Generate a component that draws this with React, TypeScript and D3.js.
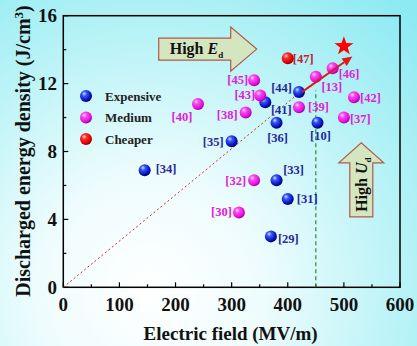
import React from "react";
import * as d3 from "d3";

// ---- data ----
const expensive = [
  { ref: "[34]", e: 145, u: 6.9 },
  { ref: "[35]", e: 300, u: 8.6 },
  { ref: "[36]", e: 380, u: 9.7 },
  { ref: "[41]", e: 360, u: 10.9 },
  { ref: "[44]", e: 420, u: 11.5 },
  { ref: "[10]", e: 453, u: 9.7 },
  { ref: "[33]", e: 380, u: 6.3 },
  { ref: "[31]", e: 400, u: 5.2 },
  { ref: "[29]", e: 370, u: 3.0 },
];
const medium = [
  { ref: "[40]", e: 240, u: 10.8 },
  { ref: "[38]", e: 325, u: 10.3 },
  { ref: "[45]", e: 340, u: 12.2 },
  { ref: "[43]", e: 351, u: 11.3 },
  { ref: "[39]", e: 420, u: 10.6 },
  { ref: "[13]", e: 450, u: 12.4 },
  { ref: "[46]", e: 480, u: 12.9 },
  { ref: "[42]", e: 518, u: 11.2 },
  { ref: "[37]", e: 500, u: 10.0 },
  { ref: "[32]", e: 340, u: 6.3 },
  { ref: "[30]", e: 313, u: 4.4 },
];
const cheaper = [{ ref: "[47]", e: 400, u: 13.5 }];
const starPoint = { e: 500, u: 14.2 };
const trendLine = [{ e: 0, u: 0 }, { e: 415, u: 11.3 }];
const progressArrow = [{ e: 425, u: 11.5 }, { e: 515, u: 13.6 }];
const fieldLimit = [{ e: 450, u: 0 }, { e: 450, u: 11.6 }];
const xTicks = [0, 100, 200, 300, 400, 500, 600];
const yTicks = [0, 4, 8, 12, 16];
const xMinor = [50, 150, 250, 350, 450, 550];
const yMinor = [2, 6, 10, 14];
const legendItems = ["Expensive", "Medium", "Cheaper"];

// ---- layout (label placement) ----
const labelPlace: Record<string, [number, number, string]> = {
  "[34]": [11, -2, "start"],
  "[35]": [-8, 0, "end"],
  "[36]": [1, 15, "middle"],
  "[41]": [16, 7, "middle"],
  "[44]": [-7, -4, "end"],
  "[10]": [3, 13, "middle"],
  "[33]": [17, -11, "middle"],
  "[31]": [9, 0, "start"],
  "[29]": [7, 2, "start"],
  "[40]": [-16, 13, "middle"],
  "[38]": [-8, 2, "end"],
  "[45]": [-6, -1, "end"],
  "[43]": [-5, -1, "end"],
  "[39]": [9, -1, "start"],
  "[13]": [16, 10, "middle"],
  "[46]": [6, 5, "start"],
  "[42]": [6, 0, "start"],
  "[37]": [6, 1, "start"],
  "[32]": [-8, 0, "end"],
  "[30]": [-7, -1, "end"],
  "[47]": [5, 0, "start"],
};

const W = 417, H = 346;
const x = d3.scaleLinear().domain([0, 600]).range([63.3, 400]);
const y = d3.scaleLinear().domain([0, 16]).range([287.3, 15.7]);

const SERIF = '"Liberation Serif", "Times New Roman", "DejaVu Serif", serif';
const groups = [
  { data: expensive, grad: "gBlue", label: "#26289c" },
  { data: medium, grad: "gMag", label: "#e020d8" },
  { data: cheaper, grad: "gRed", label: "#c41e2a" },
];

function starPath(cx: number, cy: number, R: number, r: number) {
  const pts: [number, number][] = [];
  for (let i = 0; i < 10; i++) {
    const a = -Math.PI / 2 + (i * Math.PI) / 5;
    const rad = i % 2 === 0 ? R : r;
    pts.push([cx + rad * Math.cos(a), cy + rad * Math.sin(a)]);
  }
  return "M" + pts.map((p) => p.join(",")).join("L") + "Z";
}

const T = { fontFamily: SERIF, fontWeight: 700 as const };

export default function App() {
  const line = d3.line<{ e: number; u: number }>().x((d) => x(d.e)).y((d) => y(d.u));
  const [a0, a1] = progressArrow;
  const ax0 = x(a0.e), ay0 = y(a0.u), ax1 = x(a1.e), ay1 = y(a1.u);
  const ang = Math.atan2(ay1 - ay0, ax1 - ax0);
  const hl = 10, hw = 4.5;
  const bx = ax1 - hl * Math.cos(ang), by = ay1 - hl * Math.sin(ang);
  const head = [
    [ax1, ay1],
    [bx + hw * Math.sin(ang), by - hw * Math.cos(ang)],
    [bx - hw * Math.sin(ang), by + hw * Math.cos(ang)],
  ];

  const ex0 = x(170), eyTop = y(14.68), boxW = 72, boxH = 22, headExt = 11, headLen = 26;
  const eArrow = [
    [ex0, eyTop], [ex0 + boxW, eyTop], [ex0 + boxW, eyTop - headExt],
    [ex0 + boxW + headLen, eyTop + boxH / 2], [ex0 + boxW, eyTop + boxH + headExt],
    [ex0 + boxW, eyTop + boxH], [ex0, eyTop + boxH],
  ];
  const ucx = x(531), uBottom = y(4.15), uBoxW = 23, uBoxH = 54, uHeadExt = 11, uHeadLen = 20;
  const uTop = uBottom - uBoxH;
  const uArrow = [
    [ucx - uBoxW / 2, uBottom], [ucx - uBoxW / 2, uTop], [ucx - uBoxW / 2 - uHeadExt, uTop],
    [ucx, uTop - uHeadLen], [ucx + uBoxW / 2 + uHeadExt, uTop], [ucx + uBoxW / 2, uTop],
    [ucx + uBoxW / 2, uBottom],
  ];

  return (
    <svg width={W} height={H} style={{ position: "absolute", left: 0, top: 0, fontFamily: SERIF }}>
      <defs>
        <radialGradient id="bg" cx="150" cy="290" r="380" gradientUnits="userSpaceOnUse">
          <stop offset="0" stopColor="#ffffff" />
          <stop offset="0.3" stopColor="#eefcfd" />
          <stop offset="0.7" stopColor="#b4f2f6" />
          <stop offset="1" stopColor="#8ceaf2" />
        </radialGradient>
        <radialGradient id="gBlue" cx="0.38" cy="0.35" r="0.65" fx="0.35" fy="0.3">
          <stop offset="0" stopColor="#d8e4ff" />
          <stop offset="0.3" stopColor="#3856ff" />
          <stop offset="0.75" stopColor="#0a18c0" />
          <stop offset="1" stopColor="#000070" />
        </radialGradient>
        <radialGradient id="gMag" cx="0.38" cy="0.35" r="0.65" fx="0.35" fy="0.3">
          <stop offset="0" stopColor="#ffe6ff" />
          <stop offset="0.3" stopColor="#ff48f4" />
          <stop offset="0.8" stopColor="#e010d8" />
          <stop offset="1" stopColor="#a000a0" />
        </radialGradient>
        <radialGradient id="gRed" cx="0.38" cy="0.35" r="0.65" fx="0.35" fy="0.3">
          <stop offset="0" stopColor="#ffd8d8" />
          <stop offset="0.3" stopColor="#ff3030" />
          <stop offset="0.8" stopColor="#e00000" />
          <stop offset="1" stopColor="#900000" />
        </radialGradient>
      </defs>
      <rect x={0} y={0} width={W} height={H} fill="url(#bg)" />

      <rect x={x(0)} y={y(16)} width={x(600) - x(0)} height={y(0) - y(16)} fill="none" stroke="#000" strokeWidth={1.5} />

      {xTicks.map((t) => (
        <g key={"xt" + t}>
          <line x1={x(t)} x2={x(t)} y1={y(0)} y2={y(0) - 5} stroke="#000" strokeWidth={1.2} />
          <text x={x(t)} y={311} textAnchor="middle" fontSize={19} style={T} fill="#111">{t}</text>
        </g>
      ))}
      {xMinor.map((t) => (
        <line key={"xm" + t} x1={x(t)} x2={x(t)} y1={y(0)} y2={y(0) - 3} stroke="#000" strokeWidth={1.2} />
      ))}
      {yTicks.map((t) => (
        <g key={"yt" + t}>
          <line x1={x(0)} x2={x(0) + 5} y1={y(t)} y2={y(t)} stroke="#000" strokeWidth={1.2} />
          <text x={57} y={y(t)} dy="0.35em" textAnchor="end" fontSize={19} style={T} fill="#111">{t}</text>
        </g>
      ))}
      {yMinor.map((t) => (
        <line key={"ym" + t} x1={x(0)} x2={x(0) + 3} y1={y(t)} y2={y(t)} stroke="#000" strokeWidth={1.2} />
      ))}

      <text x={(x(0) + x(600)) / 2 - 1} y={340} textAnchor="middle" fontSize={19} style={T} fill="#111">
        Electric field (MV/m)
      </text>
      <text transform={`translate(30,151) rotate(-90)`} textAnchor="middle" fontSize={20} style={T} fill="#111">
        Discharged energy density (J/cm<tspan dy={-7} fontSize={13}>3</tspan><tspan dy={7}>)</tspan>
      </text>

      <path d={line(trendLine) || ""} fill="none" stroke="#c03030" strokeWidth={1} strokeDasharray="2,2.5" />
      <path d={line(fieldLimit) || ""} fill="none" stroke="#2a8a3a" strokeWidth={1.2} strokeDasharray="4,3" />

      <polygon points={eArrow.map((p) => p.join(",")).join(" ")} fill="#d4e6c0" stroke="#b05a4a" strokeWidth={1.2} />
      <text x={ex0 + 11} y={eyTop + 16} fontSize={16} style={T} fill="#111">
        High <tspan fontStyle="italic">E</tspan><tspan fontSize={9} dy={4}>d</tspan>
      </text>

      <polygon points={uArrow.map((p) => p.join(",")).join(" ")} fill="#d4e6c0" stroke="#b05a4a" strokeWidth={1.2} />
      <text transform={`translate(${ucx + 6},${uBottom - 5}) rotate(-90)`} fontSize={16} style={T} fill="#111">
        High <tspan fontStyle="italic">U</tspan><tspan fontSize={9} dy={4}>d</tspan>
      </text>

      {groups.map((g) =>
        g.data.map((d) => {
          const [dx, dy, anchor] = labelPlace[d.ref];
          return (
            <g key={d.ref}>
              <circle cx={x(d.e)} cy={y(d.u)} r={6} fill={`url(#${g.grad})`} />
              <text x={x(d.e) + dx} y={y(d.u) + dy} dy="0.35em" textAnchor={anchor as any} fontSize={12.5} style={T} fill={g.label}>
                {d.ref}
              </text>
            </g>
          );
        })
      )}

      <line x1={ax0} y1={ay0} x2={bx} y2={by} stroke="#e01818" strokeWidth={2} />
      <polygon points={head.map((p) => p.join(",")).join(" ")} fill="#e01818" />

      <path d={starPath(x(starPoint.e), y(starPoint.u), 10, 4)} fill="#ff0000" />

      {legendItems.map((name, i) => (
        <g key={name}>
          <circle cx={86} cy={96 + i * 21.5} r={6} fill={`url(#${groups[i].grad})`} />
          <text x={105} y={96 + i * 21.5} dy="0.35em" fontSize={13} style={T} fill="#222">{name}</text>
        </g>
      ))}
    </svg>
  );
}
